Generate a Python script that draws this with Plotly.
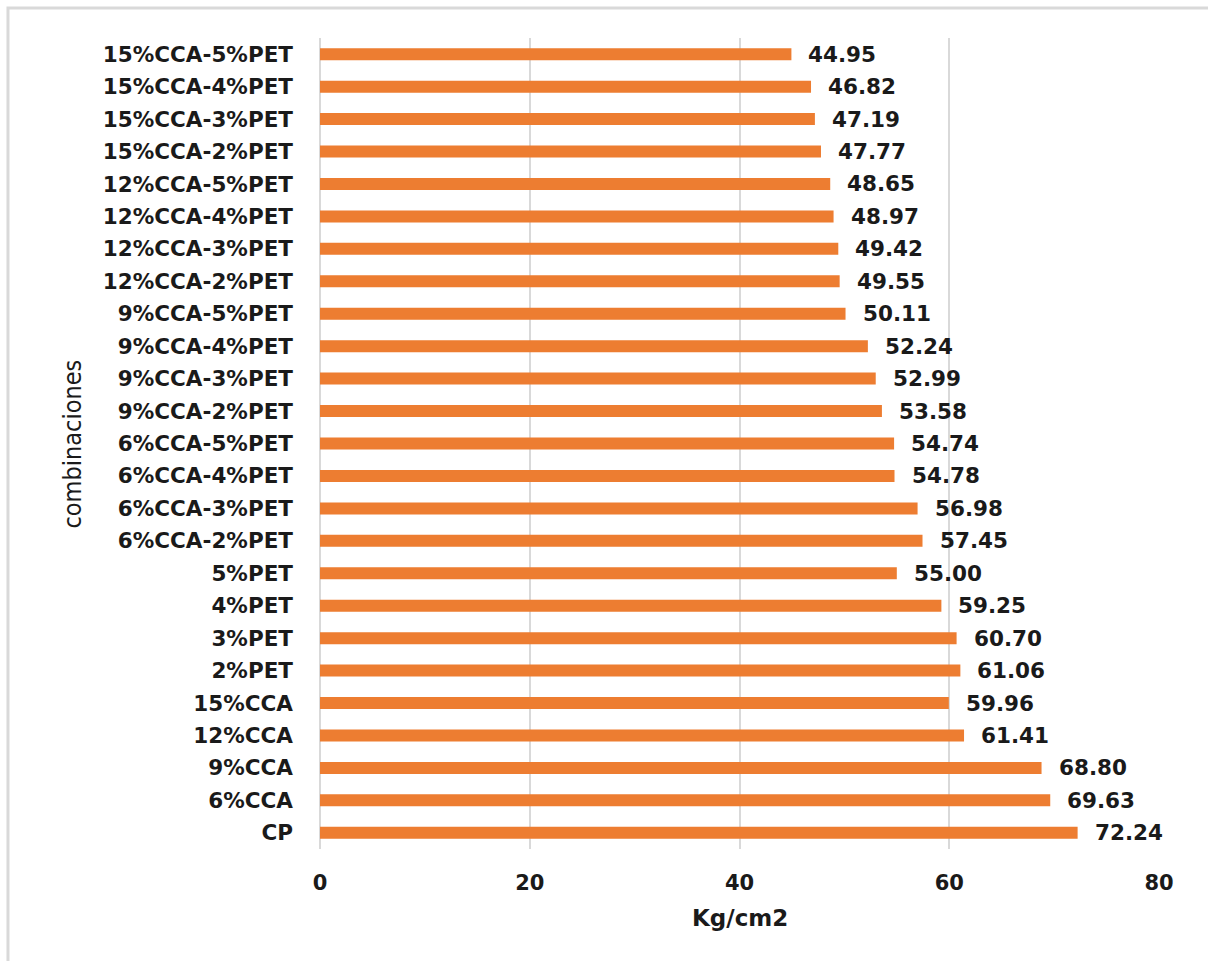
import plotly.graph_objects as go

categories = ["15%CCA-5%PET", "15%CCA-4%PET", "15%CCA-3%PET", "15%CCA-2%PET",
              "12%CCA-5%PET", "12%CCA-4%PET", "12%CCA-3%PET", "12%CCA-2%PET",
              "9%CCA-5%PET", "9%CCA-4%PET", "9%CCA-3%PET", "9%CCA-2%PET",
              "6%CCA-5%PET", "6%CCA-4%PET", "6%CCA-3%PET", "6%CCA-2%PET",
              "5%PET", "4%PET", "3%PET", "2%PET",
              "15%CCA", "12%CCA", "9%CCA", "6%CCA", "CP"]
values = [44.95, 46.82, 47.19, 47.77, 48.65, 48.97, 49.42, 49.55,
          50.11, 52.24, 52.99, 53.58, 54.74, 54.78, 56.98, 57.45,
          55.00, 59.25, 60.70, 61.06, 59.96, 61.41, 68.80, 69.63, 72.24]
x_ticks = [0, 20, 40, 60, 80]

BAR_COLOR = "#ED7D31"
TEXT_COLOR = "#1a1a1a"
GRID_COLOR = "#d9d9d9"
FONT_BOLD = "DejaVu Sans"

fig = go.Figure()
fig.add_trace(go.Bar(
    x=values, y=categories, orientation="h",
    marker=dict(color=BAR_COLOR, line=dict(width=0)),
    hoverinfo="x+y",
))

annotations = []
for c, v in zip(categories, values):
    annotations.append(dict(
        x=v, y=c, xref="x", yref="y", text=f"<b>{v:.2f}</b>",
        showarrow=False, xanchor="left", yanchor="middle", xshift=15,
        font=dict(family=FONT_BOLD, size=21.5, color=TEXT_COLOR),
    ))

# axis titles
annotations.append(dict(
    x=0.5, y=-0.085, xref="paper", yref="paper", text="<b>Kg/cm2</b>",
    showarrow=False, xanchor="center", yanchor="middle",
    font=dict(family=FONT_BOLD, size=23, color=TEXT_COLOR),
))
annotations.append(dict(
    x=-0.2944, y=0.5, xref="paper", yref="paper", text="combinaciones",
    showarrow=False, xanchor="center", yanchor="middle", textangle=-90,
    font=dict(family="Liberation Sans Narrow, DejaVu Sans Condensed, Arial Narrow, sans-serif",
              size=25, color=TEXT_COLOR),
))

fig.update_layout(
    width=1208, height=961,
    margin=dict(l=320, r=49, t=38, b=112, autoexpand=False),
    paper_bgcolor="white", plot_bgcolor="white",
    showlegend=False,
    bargap=0.63,
    annotations=annotations,
    shapes=[dict(type="rect", xref="paper", yref="paper",
                 x0=-0.3719, x1=1.2, y0=-0.25, y1=1.037,
                 line=dict(color=GRID_COLOR, width=3), layer="below")],
    xaxis=dict(
        range=[0, 80], tickvals=x_ticks, ticktext=[str(t) for t in x_ticks],
        showgrid=True, gridcolor=GRID_COLOR, gridwidth=2,
        zeroline=True, zerolinecolor=GRID_COLOR, zerolinewidth=2,
        showline=False, ticks="", ticklabelstandoff=19,
        tickfont=dict(family=FONT_BOLD, size=21, color=TEXT_COLOR, weight="bold"),
        fixedrange=True,
    ),
    yaxis=dict(
        autorange="reversed", type="category",
        showgrid=False, zeroline=False, showline=False, ticks="",
        ticklabelstandoff=26,
        tickfont=dict(family=FONT_BOLD, size=21.5, color=TEXT_COLOR, weight="bold"),
        fixedrange=True,
    ),
)

fig.write_html("out.html")
